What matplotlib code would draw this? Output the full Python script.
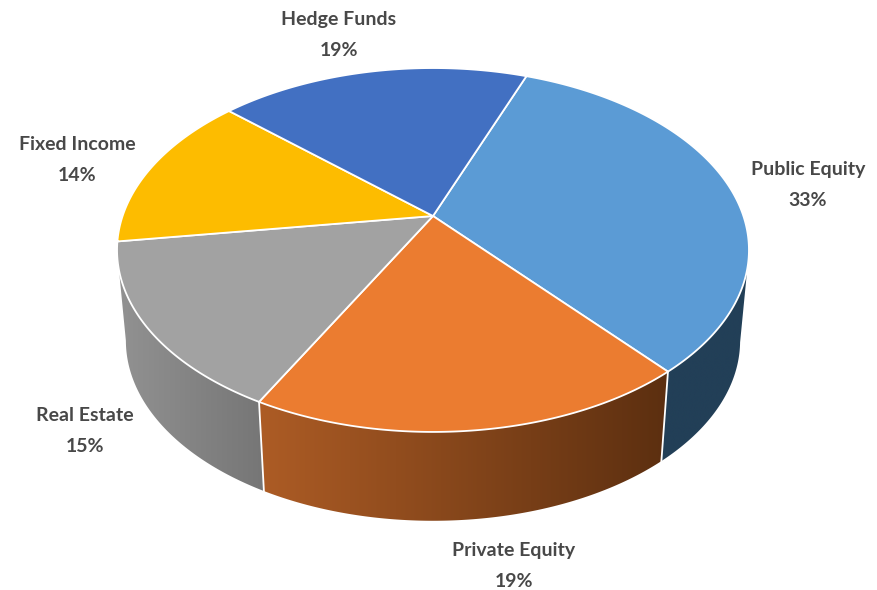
import numpy as np
import matplotlib
matplotlib.use("Agg")
import matplotlib.pyplot as plt
from matplotlib.patches import Polygon
from matplotlib.colors import to_rgb

labels = ["Public Equity", "Private Equity", "Real Estate", "Fixed Income", "Hedge Funds"]
shares = [33, 19, 15, 14, 19]
top_colors = ["#5B9BD5", "#EB7C30", "#A2A2A2", "#FDBC00", "#4270C2"]
# only the first three slices show a wall
side_left = ["#223F57", "#AD5C25", "#929292"]
side_right = ["#223F57", "#5C2F10", "#767676"]

plt.rcParams["font.family"] = ["Lato", "DejaVu Sans"]

# perspective of the tilted disc, in pixels
CX, CY = 433, 216
A, B, K = 310.4, 175.6, 0.1868
START = 20.7
BOTTOM_Y, SCALE_X, SCALE_Y = 307, 0.972, 0.99


def project(theta):
    """Angle clockwise from the back of the pie to a point on the top rim."""
    t = np.radians(theta)
    w = 1 + K * np.cos(t)
    return A * np.sin(t) / w, B * np.cos(t) / w


def top_xy(theta):
    dx, dy = project(theta)
    return CX + dx, CY - dy


def bottom_xy(theta):
    dx, dy = project(theta)
    return CX + SCALE_X * dx, BOTTOM_Y - SCALE_Y * dy


fig = plt.figure(figsize=(8.78, 5.9), dpi=100)
ax = fig.add_axes([0, 0, 1, 1])

edges = START + 3.6 * np.concatenate([[0], np.cumsum(shares)])

# side wall: horizontal gradient clipped to the wall outline
for i in range(len(side_left)):
    th = np.linspace(edges[i], edges[i + 1], 200)
    # cos = -K is where the rim is widest, so the wall outline stops there
    th = th[np.cos(np.radians(th)) < -K]
    tx, ty = top_xy(th)
    bx, by = bottom_xy(th)
    pts = np.r_[np.c_[tx, ty], np.c_[bx, by][::-1]]
    x0, x1 = pts[:, 0].min(), pts[:, 0].max()
    y0, y1 = pts[:, 1].min(), pts[:, 1].max()
    c1, c2 = np.array(to_rgb(side_left[i])), np.array(to_rgb(side_right[i]))
    grad = np.linspace(c1, c2, 256)[np.newaxis, :, :]
    im = ax.imshow(grad, extent=(x0, x1, y1, y0), aspect="auto", zorder=2)
    im.set_clip_path(Polygon(pts, closed=True, transform=ax.transData))

# white breaks between the wall pieces
for e in edges[1:3]:
    tx, ty = top_xy(e)
    bx, by = bottom_xy(e)
    ax.plot([tx, bx], [ty, by], color="white", lw=1.3, zorder=3)

# top faces
for i in range(len(shares)):
    th = np.linspace(edges[i], edges[i + 1], 200)
    tx, ty = top_xy(th)
    ax.fill(np.r_[CX, tx], np.r_[CY, ty], facecolor=top_colors[i],
            edgecolor="white", lw=1.3, joinstyle="round", zorder=4)

label_pos = [(808, 185), (514, 566), (85, 431), (77, 160), (339, 35)]
for name, share, (x, y) in zip(labels, shares, label_pos):
    ax.text(x, y, f"{name}\n{share}%", ha="center", va="center", fontsize=14,
            fontweight="bold", color="#484848", linespacing=2.0, zorder=5)

ax.set_xlim(0, 878)
ax.set_ylim(590, 0)
ax.axis("off")

fig.savefig("out.png", dpi=100)
